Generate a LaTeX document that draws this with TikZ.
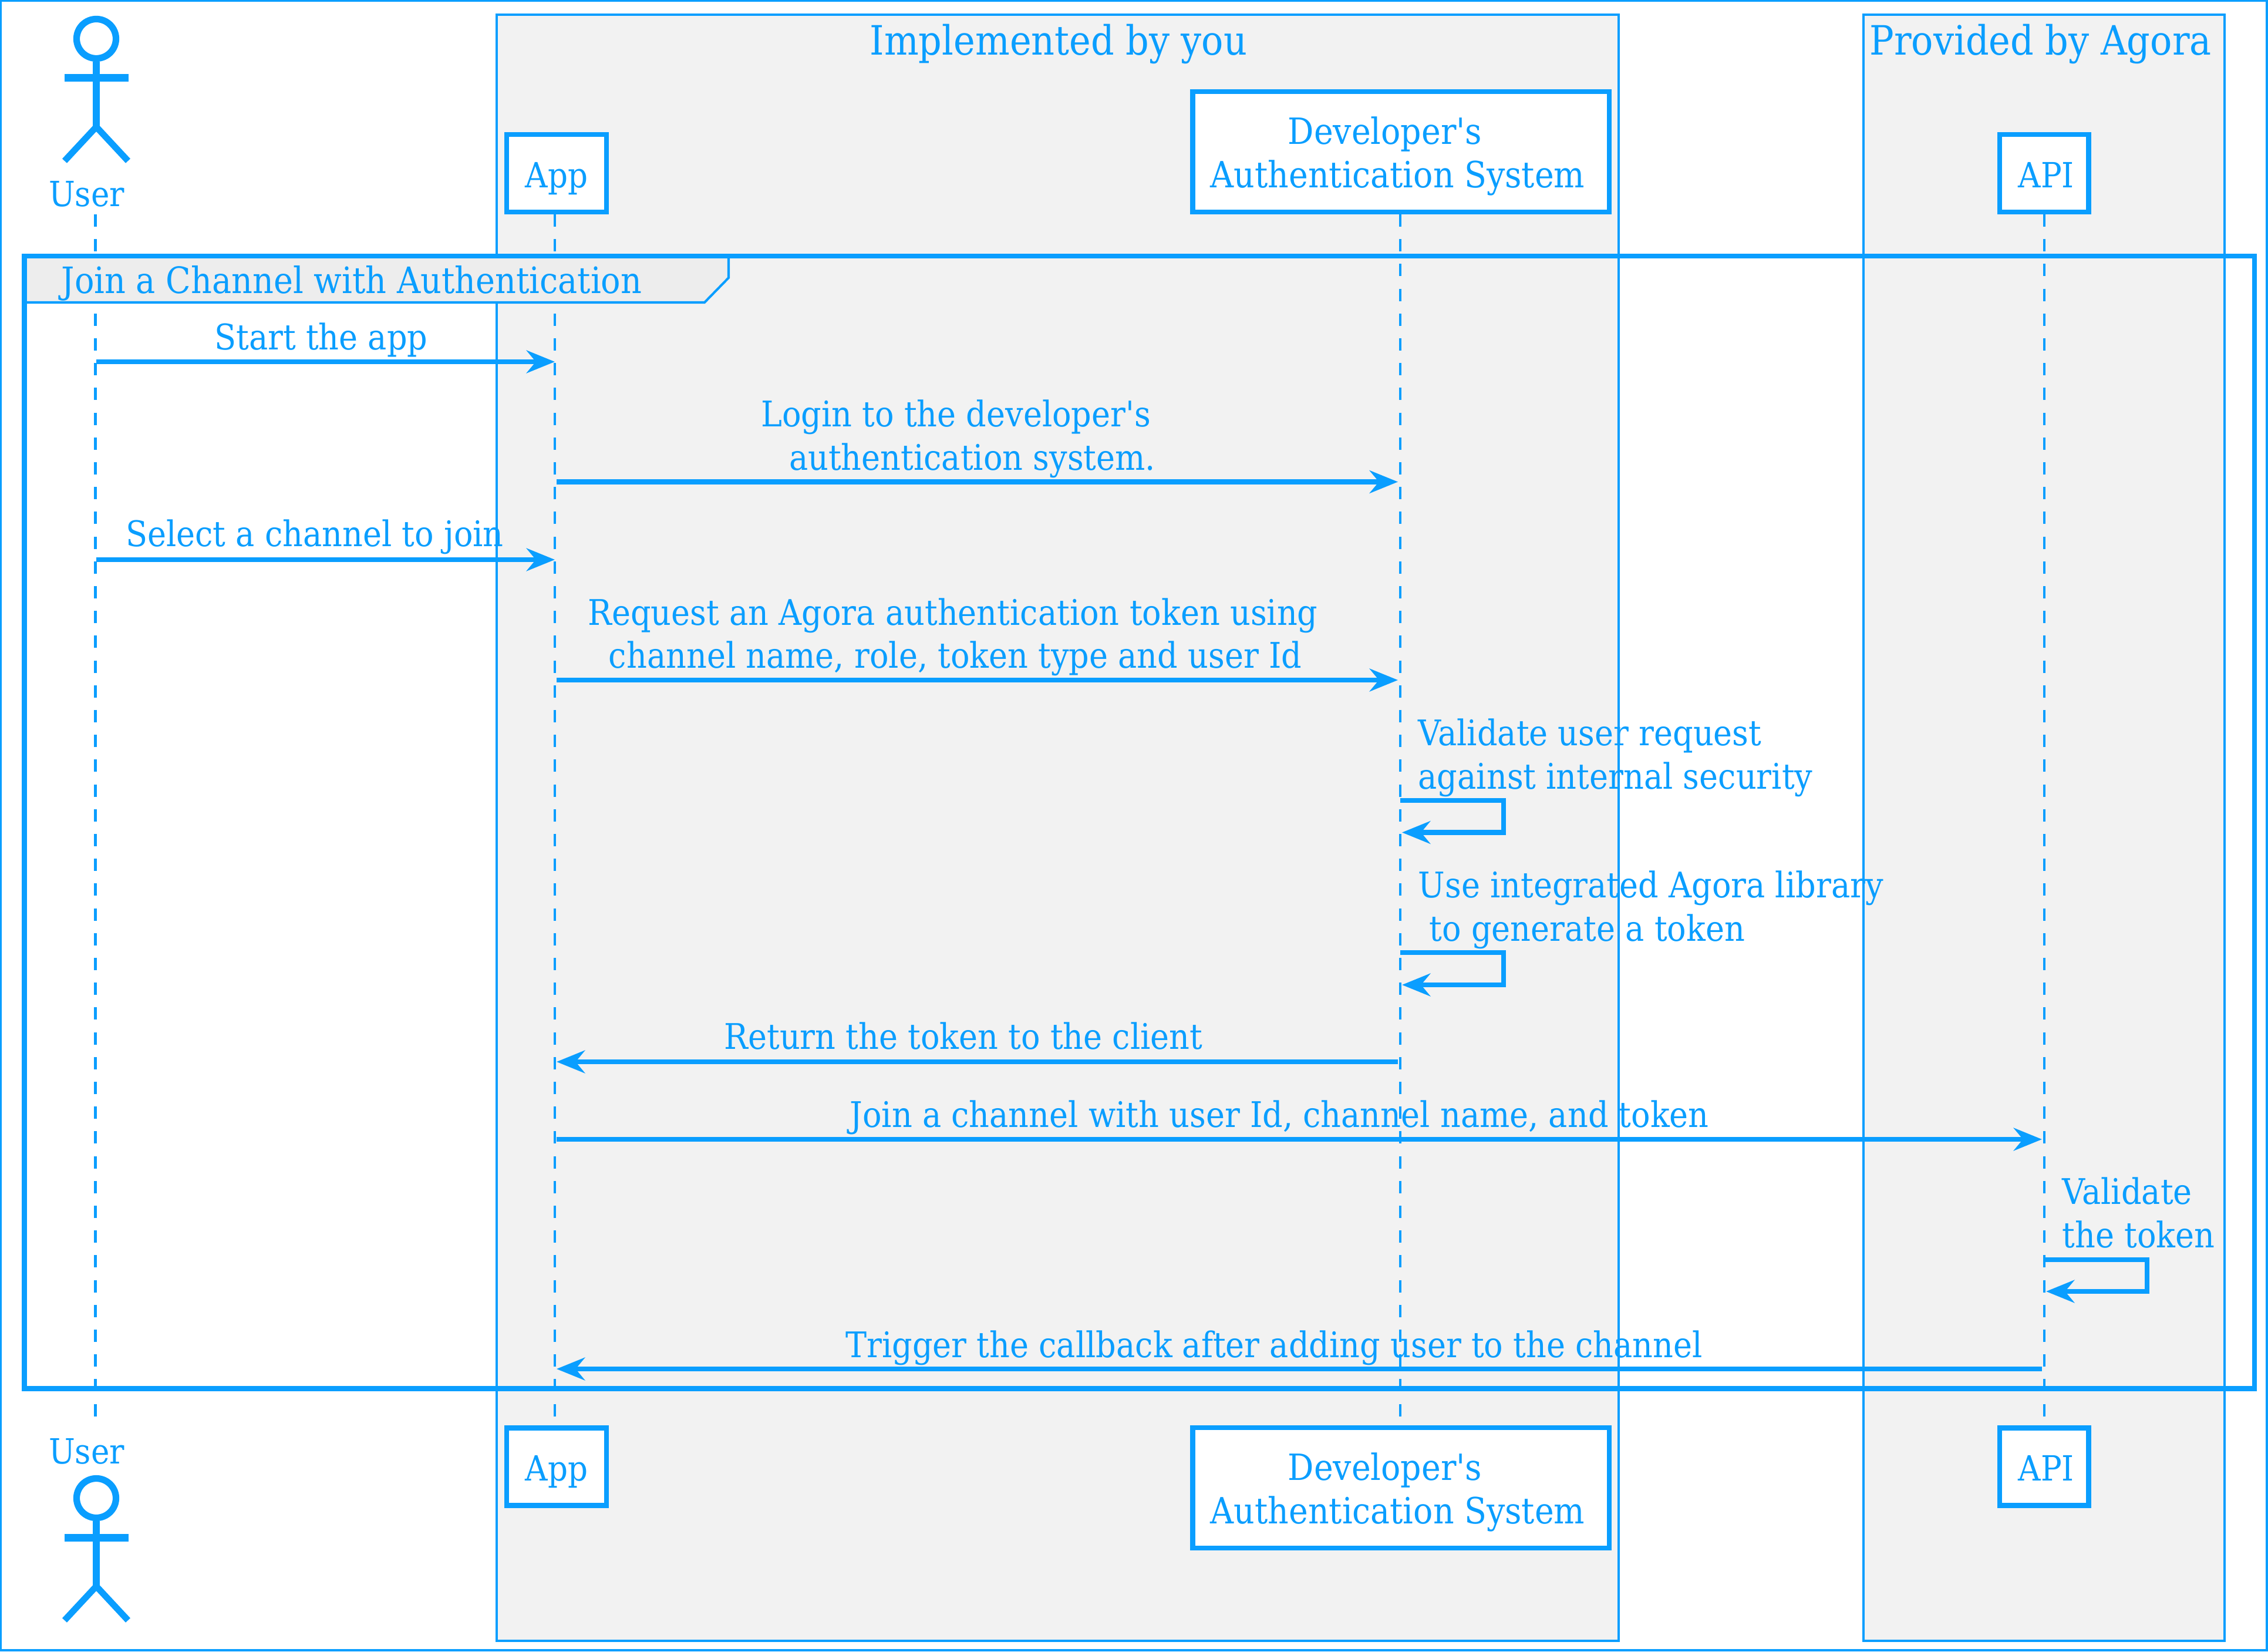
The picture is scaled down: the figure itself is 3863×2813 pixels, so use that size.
\documentclass[tikz,border=0pt]{standalone}
\usepackage{fontspec}
\setmainfont{DejaVu Serif Condensed}
\usepackage{tikz}
\usetikzlibrary{arrows.meta}
\usepackage{color}
\definecolor{seqblue}{HTML}{0A9EFF}

\tikzset{
    txt/.style={text=seqblue,inner sep=0pt,font=\fontsize{16.8}{21}\selectfont},
    msgtext/.style={txt,anchor=base,font=\fontsize{17.1}{21}\selectfont},
    selftext/.style={msgtext,anchor=base west},
    headtext/.style={txt,anchor=base,font=\fontsize{19.6}{23}\selectfont},
    partbox/.style={draw=seqblue,line width=2.4pt,fill=white,inner sep=0pt,txt,text height=0.48cm,text depth=0cm},
    devbox/.style={partbox,minimum width=7.09cm,minimum height=2.05cm,text height=1.21cm,align=center,font=\fontsize{17.5}{21}\selectfont},
    groupbox/.style={draw=seqblue,line width=1.15pt,fill=black!5},
    lifeline/.style={seqblue,line width=1.15pt,dash pattern=on 6pt off 6pt},
    msg/.style={-{Stealth[length=13.7pt,width=11pt,inset=4.5pt]},seqblue,line width=2.4pt},
    pics/stickman/.style={code={
        \draw[seqblue,line width=3.2pt] (0,0) circle (0.335cm);
        \draw[seqblue,line width=3.3pt] (0,39) -- (0,150);
        \draw[seqblue,line width=3.7pt] (-54,67) -- (55,67);
        \draw[seqblue,line width=3.1pt,miter limit=10] (-54,208) -- (0,150) -- (54,208);
    }}
}

\begin{document}
\begin{tikzpicture}[x=0.01cm,y=-0.01cm]
    \useasboundingbox (0,0) rectangle (3863,2813);

    % Draw page frame and the two groups
    \draw[seqblue,line width=1.2pt,fill=white] (1,1) rectangle (3861,2810);
    \draw[groupbox] (846,25) rectangle (2757,2794);
    \draw[groupbox] (3174,25) rectangle (3789,2794);
    \node[headtext] (implText) at (1803,94) {Implemented by you};
    \node[headtext] (agoraText) at (3475.5,94) {Provided by Agora};

    % Lifeline ends
    \coordinate (userTop) at (162.5,365);
    \coordinate (userBot) at (162.5,2428);
    \coordinate (appTop) at (945,365);
    \coordinate (appBot) at (945,2428);
    \coordinate (devTop) at (2385,365);
    \coordinate (devBot) at (2385,2428);
    \coordinate (apiTop) at (3481.7,365);
    \coordinate (apiBot) at (3481.7,2428);

    \draw[lifeline] (userTop) -- (userBot);
    \draw[lifeline] (appTop) -- (appBot);
    \draw[lifeline] (devTop) -- (devBot);
    \draw[lifeline] (apiTop) -- (apiBot);

    % Participants
    \pic at (164,66) {stickman};
    \pic at (164,2551) {stickman};
    \node[txt,anchor=base] (userTopText) at (147.6,352) {User};
    \node[txt,anchor=base] (userBotText) at (147.6,2492) {User};

    \node[partbox,minimum width=1.70cm,minimum height=1.32cm] (appBoxTop) at (948,295) {App};
    \node[partbox,minimum width=1.70cm,minimum height=1.32cm] (appBoxBot) at (948,2497.5) {App};
    \node[partbox,minimum width=1.51cm,minimum height=1.32cm] (apiBoxTop) at (3481.7,295) {\hspace*{0.07cm}API};
    \node[partbox,minimum width=1.51cm,minimum height=1.32cm] (apiBoxBot) at (3481.7,2497.5) {\hspace*{0.07cm}API};
    \node[devbox] (devBoxTop) at (2386,258.5) {Developer\textquotesingle{}s\hspace*{0.54cm}\\Authentication System\hspace*{0.11cm}};
    \node[devbox] (devBoxBot) at (2386,2533.5) {Developer\textquotesingle{}s\hspace*{0.54cm}\\Authentication System\hspace*{0.11cm}};

    % Loop frame
    \draw[seqblue,line width=2.5pt] (41.5,436) rectangle (3840,2364.5);
    \draw[seqblue,line width=1.15pt,fill=black!7] (41.5,436) -- (1241,436) -- (1241,473) -- (1200,515) -- (41.5,515) -- cycle;
    \draw[seqblue,line width=2.5pt] (41.5,515) -- (41.5,436) -- (1241,436);
    \node[msgtext,font=\fontsize{17.6}{21}\selectfont] (loopText) at (599,500) {Join a Channel with Authentication};

    % Messages
    \coordinate (startA) at (164,616);
    \coordinate (startB) at (945,616);
    \coordinate (loginA) at (948,820.5);
    \coordinate (loginB) at (2381,820.5);
    \coordinate (selectA) at (164,953);
    \coordinate (selectB) at (945,953);
    \coordinate (requestA) at (948,1158);
    \coordinate (requestB) at (2381,1158);
    \coordinate (checkA) at (2385,1363);
    \coordinate (checkB) at (2388,1417.5);
    \coordinate (makeA) at (2385,1622);
    \coordinate (makeB) at (2388,1677);
    \coordinate (returnA) at (2381,1808);
    \coordinate (returnB) at (948,1808);
    \coordinate (joinA) at (948,1940);
    \coordinate (joinB) at (3478,1940);
    \coordinate (tokenA) at (3481.7,2145);
    \coordinate (tokenB) at (3485,2199);
    \coordinate (triggerA) at (3478,2331);
    \coordinate (triggerB) at (948,2331);

    \draw[msg] (startA) -- (startB);
    \draw[msg] (loginA) -- (loginB);
    \draw[msg] (selectA) -- (selectB);
    \draw[msg] (requestA) -- (requestB);
    \draw[msg] (checkA) -| ++(176,54.5) -- (checkB);
    \draw[msg] (makeA) -| ++(176,55) -- (makeB);
    \draw[msg] (returnA) -- (returnB);
    \draw[msg] (joinA) -- (joinB);
    \draw[msg] (tokenA) -| ++(175,54) -- (tokenB);
    \draw[msg] (triggerA) -- (triggerB);

    \node[msgtext] (startText) at (547,596) {Start the app};
    \node[msgtext] (loginTextA) at (1628,727) {Login to the developer\textquotesingle{}s};
    \node[msgtext] (loginTextB) at (1656,801) {authentication system.};
    \node[msgtext] (selectText) at (536,931) {Select a channel to join};
    \node[msgtext] (requestTextA) at (1623,1064) {Request an Agora authentication token using};
    \node[msgtext] (requestTextB) at (1627,1138) {channel name, role, token type and user Id};
    \node[selftext] (checkTextA) at (2415,1269) {Validate user request};
    \node[selftext] (checkTextB) at (2415,1343) {against internal security};
    \node[selftext] (makeTextA) at (2415,1528) {Use integrated Agora library};
    \node[selftext] (makeTextB) at (2434,1602) {to generate a token};
    \node[msgtext] (returnText) at (1641,1786) {Return the token to the client};
    \node[msgtext] (joinText) at (2179,1919) {Join a channel with user Id, channel name, and token};
    \node[selftext] (tokenTextA) at (3512,2050) {Validate};
    \node[selftext] (tokenTextB) at (3512,2124) {the token};
    \node[msgtext] (triggerText) at (2170,2311) {Trigger the callback after adding user to the channel};

\end{tikzpicture}
\end{document}
